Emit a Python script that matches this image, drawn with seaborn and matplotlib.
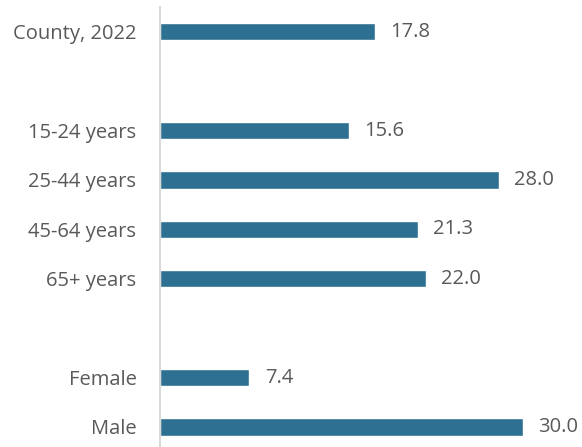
import matplotlib
matplotlib.use("Agg")
import matplotlib.pyplot as plt
import seaborn as sns
import numpy as np
import pandas as pd

sns.set_style("white")
plt.rcParams['font.family'] = ['Open Sans', 'DejaVu Sans']

# rows, with blank spacer rows between groups
labels = ["County, 2022", " ", "15-24 years", "25-44 years", "45-64 years",
          "65+ years", "  ", "Female", "Male"]
values = [17.8, np.nan, 15.6, 28.0, 21.3, 22.0, np.nan, 7.4, 30.0]

df = pd.DataFrame({"label": labels, "value": values})
bar_color = "#2E7091"
text_color = "#595959"

fig = plt.figure(figsize=(5.82, 4.47), dpi=100)
ax = fig.add_axes([160 / 582, 0, 387 / 582, 440 / 447])

sns.barplot(data=df.dropna(), x="value", y="label", order=labels, orient="h",
            color=bar_color, width=0.35, saturation=1, ax=ax, errorbar=None)

for c in ax.containers:
    ax.bar_label(c, fmt="%.1f", padding=11, color=text_color, fontsize=14.5)

ax.set_xlim(0, 32)
ax.set_ylim(8.405, -0.5)
ax.set_xlabel("")
ax.set_ylabel("")
ax.set_xticks([])
ax.tick_params(axis="y", length=0, pad=17, labelsize=14.5, labelcolor=text_color)
for s in ["top", "right", "bottom"]:
    ax.spines[s].set_visible(False)
ax.spines["left"].set_color("#D9D9D9")
ax.spines["left"].set_linewidth(1.5)

fig.savefig("out.png", dpi=100)
